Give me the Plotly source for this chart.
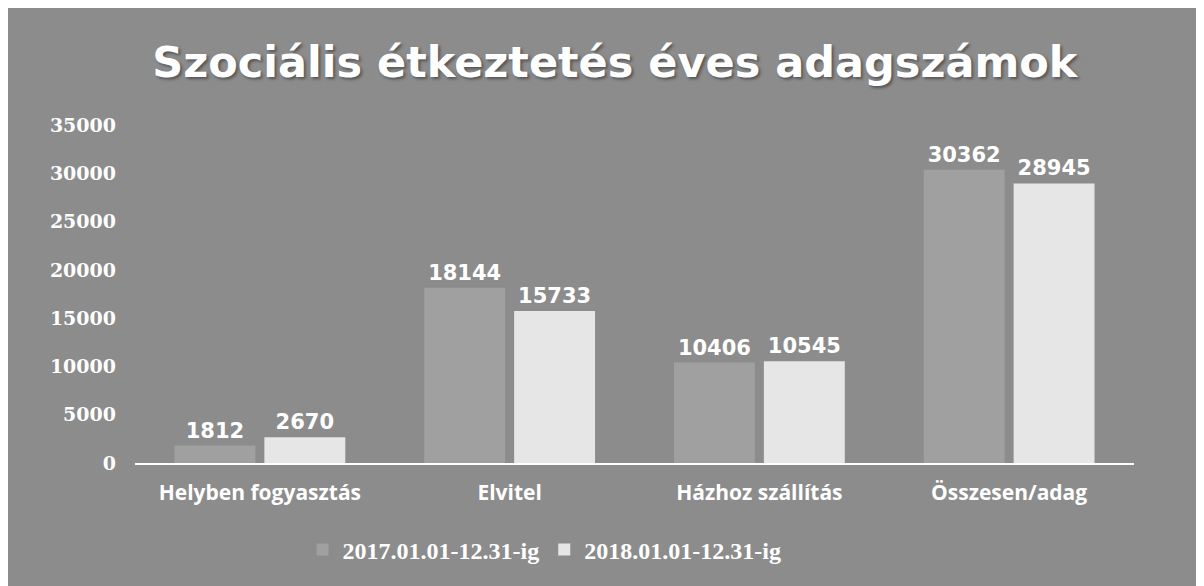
import plotly.graph_objects as go

categories = ["Helyben fogyasztás", "Elvitel", "Házhoz szállítás", "Összesen/adag"]
series_names = ["2017.01.01-12.31-ig", "2018.01.01-12.31-ig"]
values_2017 = [1812, 18144, 10406, 30362]
values_2018 = [2670, 15733, 10545, 28945]
y_ticks = [0, 5000, 10000, 15000, 20000, 25000, 30000, 35000]

bar_colors = ["#a0a0a0", "#e6e6e6"]

fig = go.Figure()
for name, vals, color in zip(series_names, [values_2017, values_2018], bar_colors):
    fig.add_trace(go.Bar(
        x=categories, y=vals, name=name,
        marker=dict(color=color, line=dict(width=0)),
        text=[str(v) for v in vals], textposition="outside",
        textfont=dict(family="DejaVu Sans", size=21, color="white", weight="bold"),
        cliponaxis=False,
    ))

fig.update_layout(
    width=1204, height=586,
    margin=dict(l=127, r=78, t=117, b=131),
    paper_bgcolor="#8c8c8c", plot_bgcolor="rgba(0,0,0,0)",
    barmode="group", bargap=0.28, bargroupgap=0.1,
    title=dict(
        text="Szociális étkeztetés éves adagszámok",
        x=0.504, xanchor="center", y=0.908, yanchor="middle",
        font=dict(family="DejaVu Sans", size=43, color="white", weight="bold",
                  shadow="2px 2px 3px #555"),
    ),
    legend=dict(
        orientation="h", x=0.41, xanchor="center", y=-0.257, yanchor="middle",
        font=dict(family="Liberation Serif", size=24, color="white", weight="bold"),
        bgcolor="rgba(0,0,0,0)", itemwidth=30,
    ),
    xaxis=dict(
        showline=True, linecolor="white", linewidth=2,
        tickfont=dict(family="Open Sans", size=21, color="white", weight="bold"),
        showgrid=False, ticks="", ticklabelstandoff=10,
    ),
    yaxis=dict(
        range=[0, 35000], tickvals=y_ticks, ticktext=[str(t) for t in y_ticks],
        showgrid=False, zeroline=False, ticks="",
        tickfont=dict(family="DejaVu Serif", size=19, color="white", weight="bold"),
        ticklabelstandoff=18,
    ),
)

fig.write_html("out.html")
